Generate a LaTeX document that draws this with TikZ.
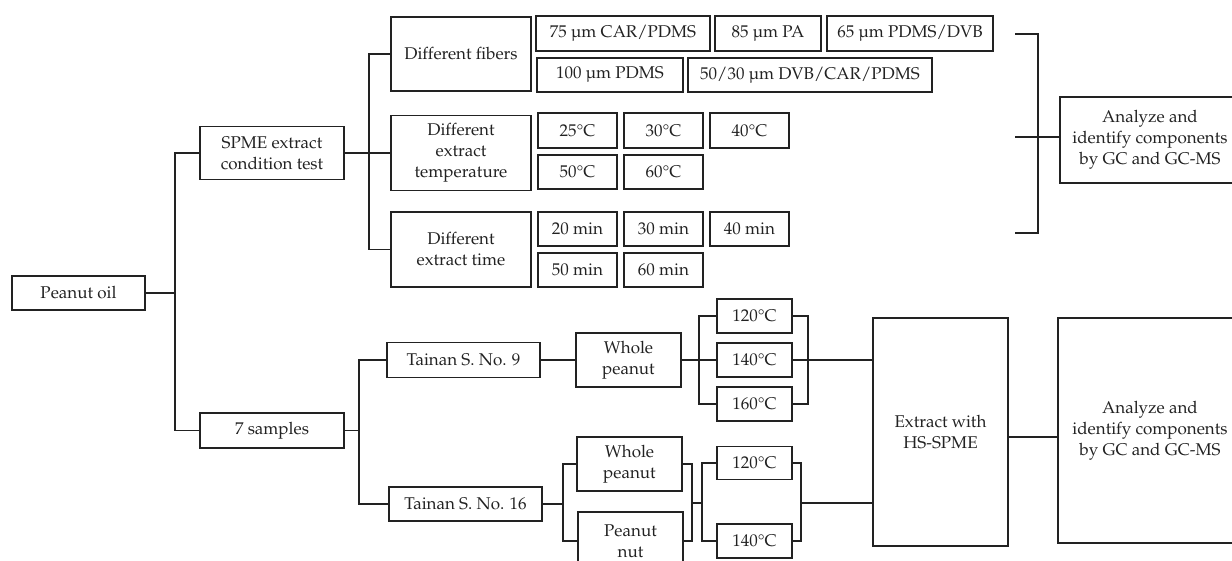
\documentclass[tikz,border=0pt]{standalone}
\usepackage[T1]{fontenc}
\usepackage{mathpazo}
\usepackage{textcomp}
\definecolor{ink}{HTML}{222222}
\tikzset{
  bx/.style={draw=ink, line width=1.8pt, inner sep=0pt, align=center, text=ink,
    font=\fontsize{17}{21}\selectfont},
  ln/.style={draw=ink, line width=1.8pt}
}
\begin{document}
\begin{tikzpicture}[x=1pt,y=-1pt]
\useasboundingbox (0,0) rectangle (1232,561);
\clip (0,0) rectangle (1232,561);
% nodes
\node[bx, minimum width=133, minimum height=34] (po) at (78.5,293) {Peanut oil};
\node[bx, minimum width=144, minimum height=53] (spme) at (272,153) {SPME extract\\condition test};
\node[bx, minimum width=140, minimum height=74] (fib) at (461,54) {Different fibers};
\node[bx, minimum width=140, minimum height=75] (temp) at (461,153) {Different\\extract\\temperature};
\node[bx, minimum width=140, minimum height=75] (time) at (461,249.5) {Different\\extract time};
\node[bx, minimum width=174, minimum height=35] (f1) at (623,33.5) {75 \textmu m CAR/PDMS};
\node[bx, minimum width=106, minimum height=35] (f2) at (768,33.5) {85 \textmu m PA};
\node[bx, minimum width=166, minimum height=35] (f3) at (910,33.5) {65 \textmu m PDMS/DVB};
\node[bx, minimum width=146, minimum height=34] (f4) at (610,75) {100 \textmu m PDMS};
\node[bx, minimum width=244, minimum height=34] (f5) at (810,75) {50/30 \textmu m DVB/CAR/PDMS};
\node[bx, minimum width=79, minimum height=35] (t25) at (577.5,130.5) {25\textdegree C};
\node[bx, minimum width=79, minimum height=35] (t30) at (663.5,130.5) {30\textdegree C};
\node[bx, minimum width=79, minimum height=35] (t40) at (749.5,130.5) {40\textdegree C};
\node[bx, minimum width=79, minimum height=34] (t50) at (577.5,172) {50\textdegree C};
\node[bx, minimum width=79, minimum height=34] (t60) at (663.5,172) {60\textdegree C};
\node[bx, minimum width=79, minimum height=34] (m20) at (577.5,229) {20 min};
\node[bx, minimum width=79, minimum height=34] (m30) at (663.5,229) {30 min};
\node[bx, minimum width=79, minimum height=34] (m40) at (749.5,229) {40 min};
\node[bx, minimum width=79, minimum height=34] (m50) at (577.5,270) {50 min};
\node[bx, minimum width=79, minimum height=34] (m60) at (663.5,270) {60 min};
\node[bx, minimum width=180, minimum height=86] (an1) at (1150,140) {Analyze and\\identify components\\by GC and GC-MS};
\node[bx, minimum width=144, minimum height=35] (s7) at (272,430.5) {7 samples};
\node[bx, minimum width=153, minimum height=35] (t9) at (463.5,360) {Tainan S. No. 9};
\node[bx, minimum width=153, minimum height=34] (t16) at (465.5,504) {Tainan S. No. 16};
\node[bx, minimum width=105, minimum height=54] (wp1) at (628.5,360) {Whole\\peanut};
\node[bx, minimum width=105, minimum height=54] (wp2) at (629.5,464) {Whole\\peanut};
\node[bx, minimum width=105, minimum height=58] (pn) at (630.5,541) {Peanut\\nut};
\node[bx, minimum width=75, minimum height=34] (a120) at (754.5,316) {120\textdegree C};
\node[bx, minimum width=75, minimum height=34] (a140) at (754.5,360) {140\textdegree C};
\node[bx, minimum width=75, minimum height=34] (a160) at (754.5,404) {160\textdegree C};
\node[bx, minimum width=75, minimum height=33] (b120) at (754.5,463) {120\textdegree C};
\node[bx, minimum width=75, minimum height=34] (b140) at (754.5,541) {140\textdegree C};
\node[bx, minimum width=135, minimum height=228] (ext) at (940.5,432) {Extract with\\HS-SPME};
\node[bx, minimum width=184, minimum height=225] (an2) at (1150,430.5) {Analyze and\\identify components\\by GC and GC-MS};
% junctions
\coordinate (j1) at (175,293);
\coordinate (j2) at (369,153);
\coordinate (j3) at (359,430.5);
\coordinate (j4) at (699,360);
\coordinate (j5) at (808,360);
\coordinate (j6) at (563,504);
\coordinate (j7) at (692,503);
\coordinate (j8) at (702,503);
\coordinate (j9) at (801,503);
\coordinate (k1) at (1015,34);
\coordinate (k2) at (1038,34);
\coordinate (k3) at (1038,233);
\coordinate (k4) at (1015,233);
\coordinate (k5) at (1015,137);
% connectors
\draw[ln] (po.east) -- (j1);
\draw[ln] (spme.west) -| (j1) |- (s7.west);
\draw[ln] (spme.east) -- (temp.west);
\draw[ln] (fib.west) -| (j2) |- (time.west);
\draw[ln] (k1) -- (k2) -- (k3) -- (k4);
\draw[ln] (k5) -- (k5 -| an1.west);
\draw[ln] (s7.east) -- (j3);
\draw[ln] (t9.west) -| (j3) |- (t16.west);
\draw[ln] (t9.east) -- (wp1.west);
\draw[ln] (wp1.east) -- (a140.west);
\draw[ln] (a120.west) -| (j4) |- (a160.west);
\draw[ln] (a120.east) -| (j5) |- (a160.east);
\draw[ln] (a140.east) -- (a140.east -| ext.west);
\draw[ln] (t16.east) -- (j6);
\draw[ln] (wp2.west) -| (j6) |- (pn.west);
\draw[ln] (wp2.east) -| (j7) |- (pn.east);
\draw[ln] (j7) -- (j8);
\draw[ln] (b120.west) -| (j8) |- (b140.west);
\draw[ln] (b120.east) -| (j9) |- (b140.east);
\draw[ln] (j9) -- (j9 -| ext.west);
\draw[ln] ([yshift=-5pt]ext.east) -- ([yshift=-5pt]ext.east -| an2.west);
\end{tikzpicture}
\end{document}
